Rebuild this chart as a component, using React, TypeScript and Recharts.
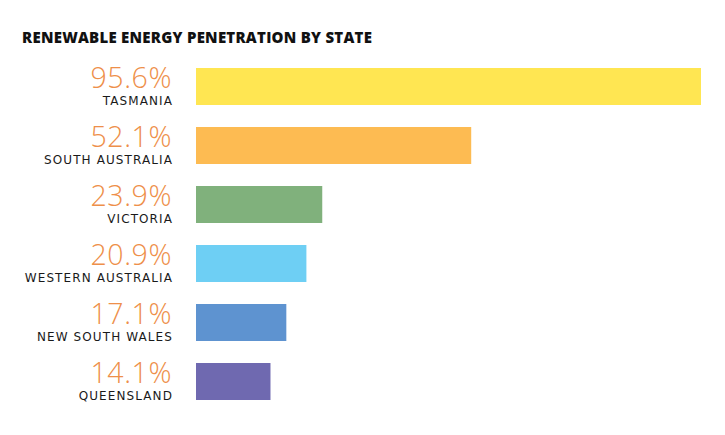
import { BarChart, Bar, XAxis, YAxis, Cell } from "recharts";

const states = ["TASMANIA", "SOUTH AUSTRALIA", "VICTORIA", "WESTERN AUSTRALIA", "NEW SOUTH WALES", "QUEENSLAND"];
const shares = [95.6, 52.1, 23.9, 20.9, 17.1, 14.1];
const colors = ["#FFE652", "#FDBB52", "#80B17C", "#6ECFF4", "#5E93D0", "#6F69B0"];

const rows = states.map((s, i) => ({ state: s, share: shares[i] }));

function StateTick(props: any) {
  const { y, payload } = props;
  const i = states.indexOf(payload.value);
  return (
    <g>
      <text x={172} y={y + 1} textAnchor="end" fill="#EE8F4A" fontSize={28.5} fontWeight={300} letterSpacing={0.6} fontFamily="'Open Sans', sans-serif">
        {shares[i].toFixed(1)}%
      </text>
      <text x={173} y={y + 18.5} textAnchor="end" fill="#1a1a1a" fontSize={12} letterSpacing={1.1} fontFamily="'DejaVu Sans', sans-serif">
        {payload.value}
      </text>
    </g>
  );
}

export default function App() {
  return (
    <div style={{ position: "absolute", left: 0, top: 0, width: 725, height: 435, background: "#fff" }}>
      <div style={{ position: "absolute", left: 22, top: 27, fontFamily: "'Open Sans', sans-serif", fontWeight: 800, fontSize: 15, color: "#111", letterSpacing: 0.25 }}>
        RENEWABLE ENERGY PENETRATION BY STATE
      </div>
      <BarChart width={725} height={435} data={rows} layout="vertical" margin={{ top: 57, right: 24, bottom: 24, left: 0 }} barCategoryGap={0}>
        <XAxis type="number" domain={[0, 95.6]} hide />
        <YAxis type="category" dataKey="state" width={196} axisLine={false} tickLine={false} tick={<StateTick />} interval={0} />
        <Bar dataKey="share" barSize={37} isAnimationActive={false}>
          {rows.map((r, i) => (
            <Cell key={r.state} fill={colors[i]} />
          ))}
        </Bar>
      </BarChart>
    </div>
  );
}
